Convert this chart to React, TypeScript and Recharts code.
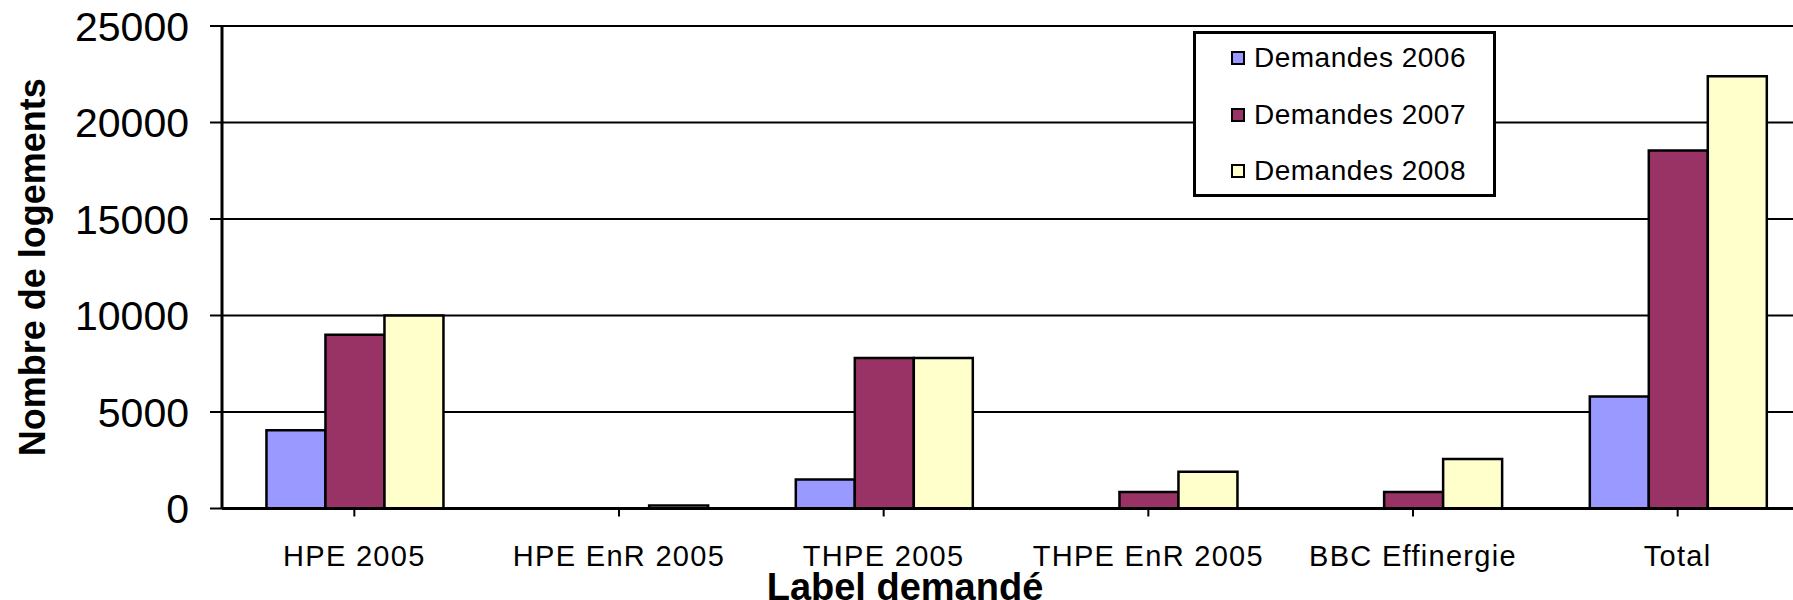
import React from 'react';
import { BarChart, Bar, XAxis, YAxis, CartesianGrid, Legend, Label } from 'recharts';

const categories = ['HPE 2005', 'HPE EnR 2005', 'THPE 2005', 'THPE EnR 2005', 'BBC Effinergie', 'Total'];
const demandes2006 = [4050, 0, 1500, 0, 0, 5800];
const demandes2007 = [9000, 0, 7800, 850, 850, 18550];
const demandes2008 = [10000, 150, 7800, 1900, 2560, 22400];
const yTicks = [0, 5000, 10000, 15000, 20000, 25000];
const seriesNames = ['Demandes 2006', 'Demandes 2007', 'Demandes 2008'];
const seriesColors = ['#9999FF', '#993366', '#FFFFCC'];

const data = categories.map((c, i) => ({
  name: c,
  d2006: demandes2006[i],
  d2007: demandes2007[i],
  d2008: demandes2008[i],
}));

const FONT = '"Liberation Sans", Arial, sans-serif';

const LegendBox = (props: any) => {
  const payload = props.payload || [];
  return (
    <div
      style={{
        width: 303,
        height: 166,
        boxSizing: 'border-box',
        border: '3px solid #000',
        background: '#fff',
        fontFamily: FONT,
        fontSize: 28,
        letterSpacing: 0.5,
        color: '#000',
        position: 'relative',
      }}
    >
      {payload.map((p: any, i: number) => (
        <div
          key={i}
          style={{
            position: 'absolute',
            left: 35,
            top: 24 + i * 56.5 - 16,
            height: 32,
            display: 'flex',
            alignItems: 'center',
            whiteSpace: 'nowrap',
          }}
        >
          <span
            style={{
              display: 'inline-block',
              width: 10,
              height: 10,
              border: '2px solid #000',
              background: p.color,
              marginRight: 9,
            }}
          />
          <span>{p.value}</span>
        </div>
      ))}
    </div>
  );
};

export default function App() {
  return (
    <div style={{ position: 'fixed', left: 0, top: 0, width: 1793, height: 600, overflow: 'hidden', background: '#fff' }}>
      <BarChart
        width={1830}
        height={600}
        data={data}
        margin={{ top: 26, right: 20, bottom: 0, left: 0 }}
        barGap={0}
        barCategoryGap="16.8%"
      >
        <CartesianGrid vertical={false} stroke="#000" strokeWidth={2} />
        <XAxis
          dataKey="name"
          height={91.5}
          axisLine={{ stroke: '#000', strokeWidth: 3 }}
          tickLine={{ stroke: '#000', strokeWidth: 2 }}
          tickSize={8}
          tickMargin={29}
          interval={0}
          tick={{ fill: '#000', fontSize: 29, fontFamily: FONT, letterSpacing: 1.3 }}
          scale="band"
        >
          <Label
            content={(p: any) => {
              const vb = p.viewBox || { x: 0, y: 0 };
              return (
                <text
                  x={vb.x + 683}
                  y={vb.y + 91}
                  textAnchor="middle"
                  fontFamily={FONT}
                  fontWeight="bold"
                  fontSize={38}
                  fill="#000"
                >
                  Label demandé
                </text>
              );
            }}
          />
        </XAxis>
        <YAxis
          width={222}
          domain={[0, 25000]}
          ticks={yTicks}
          interval={0}
          axisLine={{ stroke: '#000', strokeWidth: 3 }}
          tickLine={{ stroke: '#000', strokeWidth: 2 }}
          tickSize={12}
          tickMargin={21}
          tick={{ fill: '#000', fontSize: 41, fontFamily: FONT }}
        >
          <Label
            content={(p: any) => {
              const vb = p.viewBox || { x: 0, y: 0, height: 0 };
              const cx = vb.x + 32;
              const cy = vb.y + vb.height / 2;
              return (
                <text
                  x={cx}
                  y={cy}
                  transform={`rotate(-90 ${cx} ${cy})`}
                  textAnchor="middle"
                  dominantBaseline="central"
                  fontFamily={FONT}
                  fontWeight="bold"
                  fontSize={36}
                  fill="#000"
                >
                  Nombre de logements
                </text>
              );
            }}
          />
        </YAxis>
        <Legend
          layout="horizontal"
          verticalAlign="middle"
          align="center"
          wrapperStyle={{ position: 'absolute', left: 1193, top: 31, width: 303, height: 166, margin: 0, padding: 0 }}
          content={LegendBox}
        />
        <Bar dataKey="d2006" name={seriesNames[0]} fill={seriesColors[0]} stroke="#000" strokeWidth={2.5} isAnimationActive={false} />
        <Bar dataKey="d2007" name={seriesNames[1]} fill={seriesColors[1]} stroke="#000" strokeWidth={2.5} isAnimationActive={false} />
        <Bar dataKey="d2008" name={seriesNames[2]} fill={seriesColors[2]} stroke="#000" strokeWidth={2.5} isAnimationActive={false} />
      </BarChart>
    </div>
  );
}
